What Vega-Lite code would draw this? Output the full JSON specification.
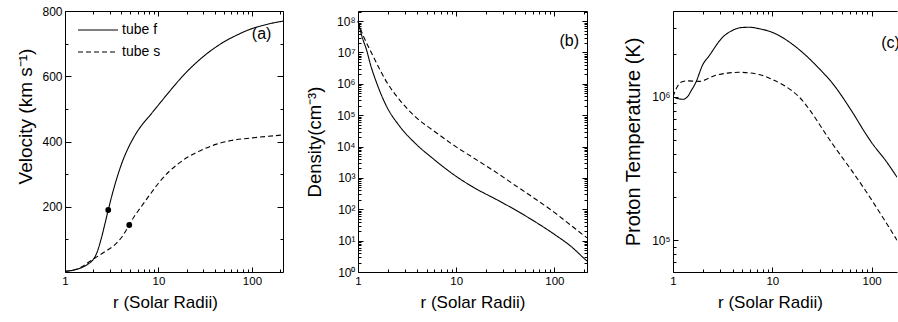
{
  "$schema": "https://vega.github.io/schema/vega-lite/v6.json",
  "padding": {"left": 16, "top": 5, "right": 0, "bottom": 0},
  "background": "white",
  "config": {
    "view": {"stroke": null},
    "font": "Liberation Sans",
    "axis": {"domainColor": "black", "tickColor": "black", "labelColor": "black", "titleColor": "black", "labelFont": "Liberation Sans", "titleFont": "Liberation Sans", "labelFontSize": 12, "titleFontSize": 20, "titleFontWeight": "normal", "grid": false, "labelFlush": false, "labelOverlap": false, "domainWidth": 1, "tickWidth": 1}
  },
  "datasets": {
    "velocity": [
      {"r": 1, "v": 2, "tube": "tube f"}, {"r": 1.2, "v": 5, "tube": "tube f"}, {"r": 1.4, "v": 10, "tube": "tube f"}, {"r": 1.6, "v": 17, "tube": "tube f"}, {"r": 1.8, "v": 26, "tube": "tube f"}, {"r": 2.0, "v": 38, "tube": "tube f"}, {"r": 2.2, "v": 60, "tube": "tube f"}, {"r": 2.43, "v": 100, "tube": "tube f"}, {"r": 2.65, "v": 143, "tube": "tube f"}, {"r": 2.9, "v": 190, "tube": "tube f"}, {"r": 3.25, "v": 245, "tube": "tube f"}, {"r": 3.7, "v": 300, "tube": "tube f"}, {"r": 4.2, "v": 345, "tube": "tube f"}, {"r": 4.8, "v": 383, "tube": "tube f"}, {"r": 5.5, "v": 415, "tube": "tube f"}, {"r": 6.5, "v": 447, "tube": "tube f"}, {"r": 8, "v": 478, "tube": "tube f"}, {"r": 10, "v": 512, "tube": "tube f"}, {"r": 13, "v": 552, "tube": "tube f"}, {"r": 17.7, "v": 597, "tube": "tube f"}, {"r": 25, "v": 640, "tube": "tube f"}, {"r": 35, "v": 675, "tube": "tube f"}, {"r": 50, "v": 705, "tube": "tube f"}, {"r": 70, "v": 727, "tube": "tube f"}, {"r": 100, "v": 746, "tube": "tube f"}, {"r": 140, "v": 758, "tube": "tube f"}, {"r": 180, "v": 765, "tube": "tube f"}, {"r": 215, "v": 769, "tube": "tube f"},
      {"r": 1, "v": 2, "tube": "tube s"}, {"r": 1.23, "v": 6, "tube": "tube s"}, {"r": 1.5, "v": 15, "tube": "tube s"}, {"r": 1.85, "v": 33, "tube": "tube s"}, {"r": 2.3, "v": 50, "tube": "tube s"}, {"r": 2.8, "v": 66, "tube": "tube s"}, {"r": 3.3, "v": 80, "tube": "tube s"}, {"r": 4.0, "v": 105, "tube": "tube s"}, {"r": 4.87, "v": 144, "tube": "tube s"}, {"r": 5.5, "v": 170, "tube": "tube s"}, {"r": 6.35, "v": 195, "tube": "tube s"}, {"r": 8, "v": 235, "tube": "tube s"}, {"r": 10, "v": 272, "tube": "tube s"}, {"r": 13, "v": 308, "tube": "tube s"}, {"r": 16, "v": 330, "tube": "tube s"}, {"r": 20, "v": 350, "tube": "tube s"}, {"r": 28, "v": 372, "tube": "tube s"}, {"r": 42, "v": 392, "tube": "tube s"}, {"r": 60, "v": 403, "tube": "tube s"}, {"r": 100, "v": 411, "tube": "tube s"}, {"r": 150, "v": 416, "tube": "tube s"}, {"r": 215, "v": 420, "tube": "tube s"}
    ],
    "dots": [
      {"r": 2.9, "v": 190, "tube": "tube f"}, {"r": 4.87, "v": 144, "tube": "tube s"}
    ],
    "density": [
      {"r": 1, "n": 100000000, "tube": "tube f"}, {"r": 1.1, "n": 31600000, "tube": "tube f"}, {"r": 1.22, "n": 12300000, "tube": "tube f"}, {"r": 1.35, "n": 3800000, "tube": "tube f"}, {"r": 1.54, "n": 1120000, "tube": "tube f"}, {"r": 1.94, "n": 200000, "tube": "tube f"}, {"r": 2.65, "n": 44700, "tube": "tube f"}, {"r": 3.9, "n": 12000, "tube": "tube f"}, {"r": 5.73, "n": 4270, "tube": "tube f"}, {"r": 10, "n": 1120, "tube": "tube f"}, {"r": 15, "n": 501, "tube": "tube f"}, {"r": 26.9, "n": 190, "tube": "tube f"}, {"r": 40, "n": 95.5, "tube": "tube f"}, {"r": 58, "n": 47.9, "tube": "tube f"}, {"r": 100, "n": 15.9, "tube": "tube f"}, {"r": 150, "n": 6.3, "tube": "tube f"}, {"r": 203, "n": 2.63, "tube": "tube f"}, {"r": 215, "n": 2.24, "tube": "tube f"},
      {"r": 1, "n": 100000000, "tube": "tube s"}, {"r": 1.1, "n": 41700000, "tube": "tube s"}, {"r": 1.22, "n": 20400000, "tube": "tube s"}, {"r": 1.35, "n": 10700000, "tube": "tube s"}, {"r": 1.54, "n": 4680000, "tube": "tube s"}, {"r": 1.94, "n": 1200000, "tube": "tube s"}, {"r": 2.65, "n": 309000, "tube": "tube s"}, {"r": 3.9, "n": 85100, "tube": "tube s"}, {"r": 5.73, "n": 33900, "tube": "tube s"}, {"r": 10, "n": 9770, "tube": "tube s"}, {"r": 15, "n": 4370, "tube": "tube s"}, {"r": 26.9, "n": 1350, "tube": "tube s"}, {"r": 40, "n": 575, "tube": "tube s"}, {"r": 58, "n": 263, "tube": "tube s"}, {"r": 100, "n": 79.4, "tube": "tube s"}, {"r": 150, "n": 29.5, "tube": "tube s"}, {"r": 203, "n": 14.1, "tube": "tube s"}, {"r": 215, "n": 12.3, "tube": "tube s"}
    ],
    "temperature": [
      {"r": 1, "T": 1000000, "tube": "tube f"}, {"r": 1.12, "T": 970000, "tube": "tube f"}, {"r": 1.25, "T": 960000, "tube": "tube f"}, {"r": 1.4, "T": 1000000, "tube": "tube f"}, {"r": 1.51, "T": 1090000, "tube": "tube f"}, {"r": 1.69, "T": 1250000, "tube": "tube f"}, {"r": 2.0, "T": 1680000, "tube": "tube f"}, {"r": 2.3, "T": 1920000, "tube": "tube f"}, {"r": 3.13, "T": 2580000, "tube": "tube f"}, {"r": 4.0, "T": 2910000, "tube": "tube f"}, {"r": 5.0, "T": 3040000, "tube": "tube f"}, {"r": 6.0, "T": 3050000, "tube": "tube f"}, {"r": 7.2, "T": 2990000, "tube": "tube f"}, {"r": 10, "T": 2810000, "tube": "tube f"}, {"r": 18.5, "T": 2140000, "tube": "tube f"}, {"r": 29.4, "T": 1580000, "tube": "tube f"}, {"r": 40, "T": 1250000, "tube": "tube f"}, {"r": 63, "T": 794000, "tube": "tube f"}, {"r": 86.6, "T": 556000, "tube": "tube f"}, {"r": 100, "T": 479000, "tube": "tube f"}, {"r": 140, "T": 355000, "tube": "tube f"}, {"r": 180, "T": 275000, "tube": "tube f"},
      {"r": 1, "T": 1000000, "tube": "tube s"}, {"r": 1.1, "T": 1170000, "tube": "tube s"}, {"r": 1.2, "T": 1260000, "tube": "tube s"}, {"r": 1.4, "T": 1290000, "tube": "tube s"}, {"r": 1.83, "T": 1280000, "tube": "tube s"}, {"r": 2.69, "T": 1410000, "tube": "tube s"}, {"r": 3.5, "T": 1460000, "tube": "tube s"}, {"r": 4.6, "T": 1480000, "tube": "tube s"}, {"r": 7.3, "T": 1430000, "tube": "tube s"}, {"r": 10, "T": 1320000, "tube": "tube s"}, {"r": 18.5, "T": 1000000, "tube": "tube s"}, {"r": 40, "T": 473000, "tube": "tube s"}, {"r": 86.6, "T": 222000, "tube": "tube s"}, {"r": 180, "T": 100000, "tube": "tube s"}
    ],
    "labA": [{"r": 127, "v": 731, "label": "(a)"}],
    "labB": [{"r": 142, "n": 23000000, "label": "(b)"}],
    "labC": [{"r": 125, "T": 2380000, "label": "(c)"}]
  },
  "spacing": 33,
  "resolve": {"scale": {"x": "independent", "y": "independent", "strokeDash": "independent"}},
  "hconcat": [
    {
      "bounds": "flush",
      "spacing": 75,
      "resolve": {"scale": {"x": "independent", "y": "independent", "strokeDash": "independent"}},
      "hconcat": [
        {
          "width": 218, "height": 261,
          "resolve": {"axis": {"x": "independent", "y": "independent"}},
          "layer": [
            {
              "data": {"name": "velocity"},
              "mark": {"type": "line", "color": "black", "strokeWidth": 1.1, "interpolate": "monotone"},
              "encoding": {
                "x": {"field": "r", "type": "quantitative", "scale": {"type": "log", "domain": [1, 215], "nice": false},
                  "axis": {"orient": "bottom", "values": [1, 10, 100], "labelExpr": "'' + datum.value", "tickSize": -5,
                    "labelPadding": 8, "labelFontSize": 11.5, "title": "r (Solar Radii)", "titleFontSize": 17, "titlePadding": 8, "titleX": 100}},
                "y": {"field": "v", "type": "quantitative", "scale": {"domain": [0, 800], "nice": false},
                  "axis": {"orient": "left", "values": [200, 400, 600, 800], "tickSize": -6,
                    "labelPadding": 9, "title": "Velocity (km s⁻¹)", "titleFontSize": 19, "titlePadding": 6, "titleY": 105}},
                "strokeDash": {"field": "tube", "type": "nominal", "scale": {"domain": ["tube f", "tube s"], "range": [[1, 0], [5, 3]]},
                  "legend": {"orient": "none", "legendX": 22, "legendY": 8, "title": null, "labelFontSize": 14, "labelFont": "Liberation Sans", "labelColor": "black", "symbolType": "M-2,0H2", "symbolSize": 400, "symbolStrokeWidth": 1.2, "symbolStrokeColor": "black", "labelOffset": 13, "rowPadding": 4}}
              }
            },
            {
              "data": {"name": "labA"},
              "mark": {"type": "text", "fontSize": 16, "color": "black", "font": "Liberation Sans"},
              "encoding": {
                "x": {"field": "r", "type": "quantitative", "scale": {"type": "log", "domain": [1, 215], "nice": false},
                  "axis": {"orient": "bottom", "values": [2,3,4,5,6,7,8,9,20,30,40,50,60,70,80,90,200], "labels": false, "domain": false, "title": null, "tickSize": -3}},
                "y": {"field": "v", "type": "quantitative", "scale": {"domain": [0, 800], "nice": false},
                  "axis": {"orient": "left", "values": [100, 300, 500, 700], "labels": false, "domain": false, "title": null, "tickSize": -3}},
                "text": {"field": "label"}
              }
            },
            {
              "data": {"name": "labA"},
              "mark": {"type": "text", "opacity": 0},
              "encoding": {
                "x": {"field": "r", "type": "quantitative", "scale": {"type": "log", "domain": [1, 215], "nice": false},
                  "axis": {"orient": "top", "values": [1, 10, 100], "labels": false, "title": null, "tickSize": -5}},
                "y": {"field": "v", "type": "quantitative", "scale": {"domain": [0, 800], "nice": false},
                  "axis": {"orient": "right", "values": [200, 400, 600, 800], "labels": false, "title": null, "tickSize": -6}},
                "text": {"field": "label"}
              }
            },
            {
              "data": {"name": "labA"},
              "mark": {"type": "text", "opacity": 0},
              "encoding": {
                "x": {"field": "r", "type": "quantitative", "scale": {"type": "log", "domain": [1, 215], "nice": false},
                  "axis": {"orient": "top", "values": [2,3,4,5,6,7,8,9,20,30,40,50,60,70,80,90,200], "labels": false, "domain": false, "title": null, "tickSize": -3}},
                "y": {"field": "v", "type": "quantitative", "scale": {"domain": [0, 800], "nice": false},
                  "axis": {"orient": "right", "values": [100, 300, 500, 700], "labels": false, "domain": false, "title": null, "tickSize": -3}},
                "text": {"field": "label"}
              }
            },
            {
              "data": {"name": "dots"},
              "mark": {"type": "point", "filled": true, "color": "black", "size": 34, "opacity": 1},
              "encoding": {
                "x": {"field": "r", "type": "quantitative", "scale": {"type": "log", "domain": [1, 215], "nice": false}, "axis": null},
                "y": {"field": "v", "type": "quantitative", "scale": {"domain": [0, 800], "nice": false}, "axis": null}
              }
            }
          ]
        },
        {
          "width": 229, "height": 261,
          "resolve": {"axis": {"x": "independent", "y": "independent"}},
          "layer": [
            {
              "data": {"name": "density"},
              "mark": {"type": "line", "color": "black", "strokeWidth": 1.1, "interpolate": "monotone"},
              "encoding": {
                "x": {"field": "r", "type": "quantitative", "scale": {"type": "log", "domain": [1, 215], "nice": false},
                  "axis": {"orient": "bottom", "values": [1, 10, 100], "labelExpr": "'' + datum.value", "tickSize": -5,
                    "labelPadding": 8, "labelFontSize": 11.5, "title": "r (Solar Radii)", "titleFontSize": 17, "titlePadding": 8}},
                "y": {"field": "n", "type": "quantitative", "scale": {"type": "log", "domain": [1, 210000000], "nice": false},
                  "axis": {"orient": "left", "values": [1,10,100,1000,10000,100000,1000000,10000000,100000000],
                    "labelExpr": "datum.value==1?'10⁰':datum.value==10?'10¹':datum.value==100?'10²':datum.value==1000?'10³':datum.value==10000?'10⁴':datum.value==100000?'10⁵':datum.value==1000000?'10⁶':datum.value==10000000?'10⁷':'10⁸'",
                    "tickSize": -5, "labelPadding": 8, "labelFontSize": 12, "title": "Density(cm⁻³)", "titleFontSize": 18.5, "titlePadding": 12}},
                "strokeDash": {"field": "tube", "type": "nominal", "scale": {"domain": ["tube f", "tube s"], "range": [[1, 0], [5, 3]]}, "legend": null}
              }
            },
            {
              "data": {"name": "labB"},
              "mark": {"type": "text", "fontSize": 16, "color": "black", "font": "Liberation Sans"},
              "encoding": {
                "x": {"field": "r", "type": "quantitative", "scale": {"type": "log", "domain": [1, 215], "nice": false},
                  "axis": {"orient": "bottom", "values": [2,3,4,5,6,7,8,9,20,30,40,50,60,70,80,90,200], "labels": false, "domain": false, "title": null, "tickSize": -3}},
                "y": {"field": "n", "type": "quantitative", "scale": {"type": "log", "domain": [1, 210000000], "nice": false},
                  "axis": {"orient": "left", "values": [2,3,4,5,6,7,8,9,20,30,40,50,60,70,80,90,200,300,400,500,600,700,800,900,2000,3000,4000,5000,6000,7000,8000,9000,20000,30000,40000,50000,60000,70000,80000,90000,200000,300000,400000,500000,600000,700000,800000,900000,2000000,3000000,4000000,5000000,6000000,7000000,8000000,9000000,20000000,30000000,40000000,50000000,60000000,70000000,80000000,90000000,200000000],
                    "labels": false, "domain": false, "title": null, "tickSize": -3}},
                "text": {"field": "label"}
              }
            },
            {
              "data": {"name": "labB"},
              "mark": {"type": "text", "opacity": 0},
              "encoding": {
                "x": {"field": "r", "type": "quantitative", "scale": {"type": "log", "domain": [1, 215], "nice": false},
                  "axis": {"orient": "top", "values": [1, 10, 100], "labels": false, "title": null, "tickSize": -5}},
                "y": {"field": "n", "type": "quantitative", "scale": {"type": "log", "domain": [1, 210000000], "nice": false},
                  "axis": {"orient": "right", "values": [1,10,100,1000,10000,100000,1000000,10000000,100000000], "labels": false, "title": null, "tickSize": -5}},
                "text": {"field": "label"}
              }
            },
            {
              "data": {"name": "labB"},
              "mark": {"type": "text", "opacity": 0},
              "encoding": {
                "x": {"field": "r", "type": "quantitative", "scale": {"type": "log", "domain": [1, 215], "nice": false},
                  "axis": {"orient": "top", "values": [2,3,4,5,6,7,8,9,20,30,40,50,60,70,80,90,200], "labels": false, "domain": false, "title": null, "tickSize": -3}},
                "y": {"field": "n", "type": "quantitative", "scale": {"type": "log", "domain": [1, 210000000], "nice": false},
                  "axis": {"orient": "right", "values": [2,3,4,5,6,7,8,9,20,30,40,50,60,70,80,90,200,300,400,500,600,700,800,900,2000,3000,4000,5000,6000,7000,8000,9000,20000,30000,40000,50000,60000,70000,80000,90000,200000,300000,400000,500000,600000,700000,800000,900000,2000000,3000000,4000000,5000000,6000000,7000000,8000000,9000000,20000000,30000000,40000000,50000000,60000000,70000000,80000000,90000000,200000000],
                    "labels": false, "domain": false, "title": null, "tickSize": -3}},
                "text": {"field": "label"}
              }
            }
          ]
        }
      ]
    },
    {
      "width": 224, "height": 261,
      "resolve": {"axis": {"x": "independent", "y": "independent"}},
      "layer": [
        {
          "data": {"name": "temperature"},
          "mark": {"type": "line", "color": "black", "strokeWidth": 1.1, "interpolate": "monotone", "clip": true},
          "encoding": {
            "x": {"field": "r", "type": "quantitative", "scale": {"type": "log", "domain": [1, 180], "nice": false},
              "axis": {"orient": "bottom", "values": [1, 10, 100], "labelExpr": "'' + datum.value", "tickSize": -5,
                "labelPadding": 8, "labelFontSize": 11.5, "title": "r (Solar Radii)", "titleFontSize": 17, "titlePadding": 8, "titleX": 97}},
            "y": {"field": "T", "type": "quantitative", "scale": {"type": "log", "domain": [60000, 3960000], "nice": false},
              "axis": {"orient": "left", "values": [100000, 1000000], "labelExpr": "datum.value==100000?'10⁵':'10⁶'", "tickSize": -5,
                "labelPadding": 8, "labelFontSize": 12, "title": "Proton Temperature (K)", "titlePadding": 8}},
            "strokeDash": {"field": "tube", "type": "nominal", "scale": {"domain": ["tube f", "tube s"], "range": [[1, 0], [5, 3]]}, "legend": null}
          }
        },
        {
          "data": {"name": "labC"},
          "mark": {"type": "text", "fontSize": 16, "color": "black", "font": "Liberation Sans", "align": "left"},
          "encoding": {
            "x": {"field": "r", "type": "quantitative", "scale": {"type": "log", "domain": [1, 180], "nice": false},
              "axis": {"orient": "bottom", "values": [2,3,4,5,6,7,8,9,20,30,40,50,60,70,80,90], "labels": false, "domain": false, "title": null, "tickSize": -3}},
            "y": {"field": "T", "type": "quantitative", "scale": {"type": "log", "domain": [60000, 3960000], "nice": false},
              "axis": {"orient": "left", "values": [60000,70000,80000,90000,200000,300000,400000,500000,600000,700000,800000,900000,2000000,3000000], "labels": false, "domain": false, "title": null, "tickSize": -3}},
            "text": {"field": "label"}
          }
        },
        {
          "data": {"name": "labC"},
          "mark": {"type": "text", "opacity": 0},
          "encoding": {
            "x": {"field": "r", "type": "quantitative", "scale": {"type": "log", "domain": [1, 180], "nice": false},
              "axis": {"orient": "top", "values": [1, 10, 100], "labels": false, "title": null, "tickSize": -5}},
            "y": {"field": "T", "type": "quantitative", "scale": {"type": "log", "domain": [60000, 3960000], "nice": false}, "axis": null},
            "text": {"field": "label"}
          }
        },
        {
          "data": {"name": "labC"},
          "mark": {"type": "text", "opacity": 0},
          "encoding": {
            "x": {"field": "r", "type": "quantitative", "scale": {"type": "log", "domain": [1, 180], "nice": false},
              "axis": {"orient": "top", "values": [2,3,4,5,6,7,8,9,20,30,40,50,60,70,80,90], "labels": false, "domain": false, "title": null, "tickSize": -3}},
            "y": {"field": "T", "type": "quantitative", "scale": {"type": "log", "domain": [60000, 3960000], "nice": false}, "axis": null},
            "text": {"field": "label"}
          }
        }
      ]
    }
  ]
}
